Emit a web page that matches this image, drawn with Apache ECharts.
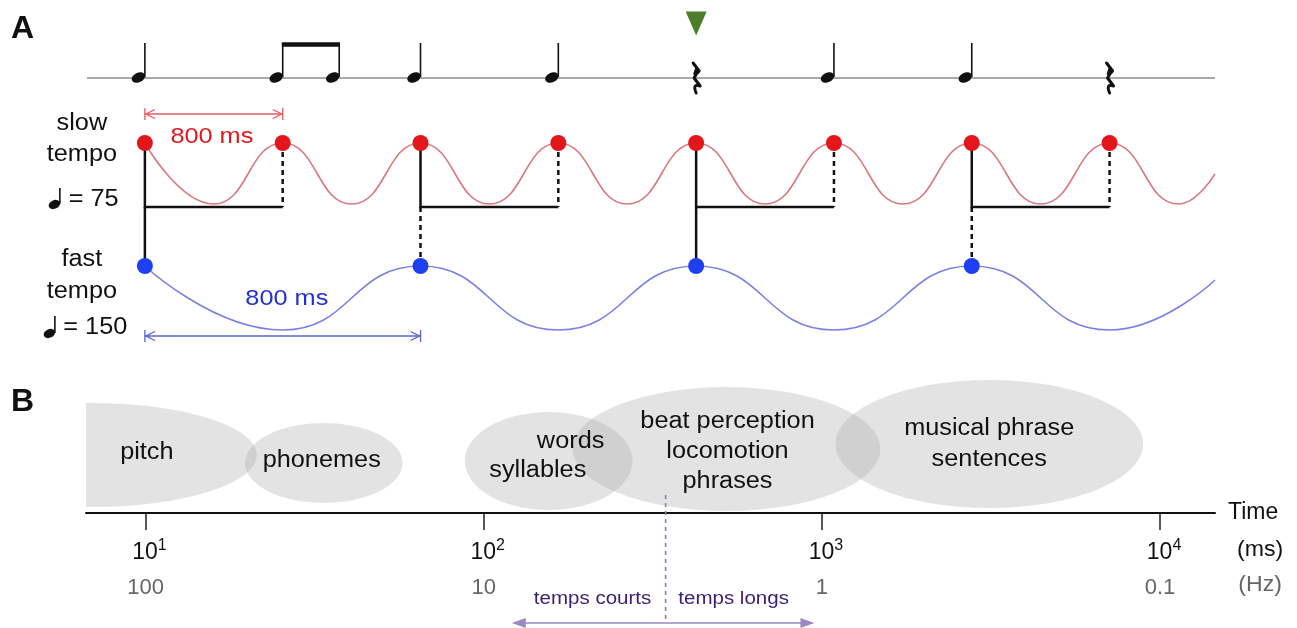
<!DOCTYPE html>
<html><head><meta charset="utf-8">
<script src="https://cdn.jsdelivr.net/npm/echarts@6/dist/echarts.min.js"></script>
<style>html,body{margin:0;padding:0;background:#fff}#c{width:1297px;height:628px}</style>
</head><body><div id="c"></div>
<script>
// ===== Panel A: x in beats of the slow tempo, y in rows (0 = top, 1 row = 10 px) =====
const staffExtent = [-0.42, 7.765];
const staffRow = 7.8;
const stemTopRow = 4.3;
const noteBeats = [0, 1, 1.41, 2, 3, 4, 5, 6, 7];
const noteKinds = ['quarter', 'eighth', 'eighth', 'quarter', 'quarter', 'rest', 'quarter', 'quarter', 'rest'];
const cueBeats = [4];
const cueRow = 2.35;
const slowWaveBeats = [0, 0.5, 1, 1.5, 2, 2.5, 3, 3.5, 4, 4.5, 5, 5.5, 6, 6.5, 7, 7.5, 7.765];
const slowWaveRows = [14.3, 20.4, 14.3, 20.4, 14.3, 20.4, 14.3, 20.4, 14.3, 20.4, 14.3, 20.4, 14.3, 20.4, 14.3, 20.4, 17.4];
const fastWaveBeats = [0, 1, 2, 3, 4, 5, 6, 7, 7.765];
const fastWaveRows = [26.6, 33.0, 26.6, 33.0, 26.6, 33.0, 26.6, 33.0, 28.0];
const slowBeats = [0, 1, 2, 3, 4, 5, 6, 7];
const slowBeatRow = 14.3;
const fastBeats = [0, 2, 4, 6];
const fastBeatRow = 26.6;
const groupStarts = [0, 2, 4, 6];
const groupEnds = [1, 3, 5, 7];
const groupRow = 20.7;
const linkBeats = [0, 2, 4, 6];
const linkDashed = [false, true, false, true];
const spanStarts = [0, 0];
const spanEnds = [1, 2];
const spanRows = [11.4, 33.6];
const spanTexts = ['800 ms', '800 ms'];
const spanTextBeats = [0.486, 1.03];
const spanTextRows = [13.7, 29.9];
const sideTexts = ['slow', 'tempo', '= 75', 'fast', 'tempo', '= 150'];
const sideTextBeats = [-0.457, -0.457, -0.372, -0.457, -0.457, -0.36];
const sideTextRows = [12.4, 15.5, 20.0, 26.0, 29.2, 32.8];
const tempoNoteBeats = [-0.617, -0.653];
const tempoNoteRows = [20.5, 33.4];
const tempoNoteStemTops = [18.8, 31.6];

// ===== Panel B: x = log10(time in ms), y = height above the time axis =====
const timeExtent = [0.824, 4.1625];
const decadeTicks = [1, 2, 3, 4];
const hzLabels = ['100', '10', '1', '0.1'];
const bandCenters = [0.842, 1.527, 2.192, 2.718, 3.495];
const bandHalfWidths = [0.487, 0.233, 0.248, 0.455, 0.455];
const bandLevels = [58, 50, 52, 64, 69];
const bandHalfHeights = [52, 40, 49, 62, 64];
const bandTexts = ['pitch', 'phonemes', 'words', 'syllables', 'beat perception', 'locomotion', 'phrases', 'musical phrase', 'sentences'];
const bandTextX = [1.004, 1.521, 2.257, 2.160, 2.721, 2.721, 2.721, 3.495, 3.495];
const bandTextY = [60, 52, 71, 42, 91, 61, 31, 84, 53];
const splitLog = 2.538;
const splitRange = [18, -110];
const regimeSpan = [2.083, 2.978];
const regimeRow = -110;
const regimeTexts = ['temps courts', 'temps longs'];
const regimeTextX = [2.322, 2.739];
const regimeTextRow = -86;
const unitTexts = ['(ms)', '(Hz)'];
const unitTextX = 4.296;
const unitTextRows = [-37, -72];

const FONT = '"Liberation Sans", Arial, Helvetica, sans-serif';

function txt(p, text, size, color, sx) {
  return { type: 'text', x: p[0], y: p[1], scaleX: sx || 1, z2: 10,
    style: { text: text, fontSize: size, fontFamily: FONT, fill: color, align: 'center', verticalAlign: 'middle' } };
}
function ellipsePath(rx, ry) {
  return 'M ' + (-rx) + ' 0 A ' + rx + ' ' + ry + ' 0 1 0 ' + rx + ' 0 A ' + rx + ' ' + ry + ' 0 1 0 ' + (-rx) + ' 0 Z';
}
function noteGlyph(base, top, rx, ry) {
  return [
    { type: 'path', x: base[0] - rx + 0.5, y: base[1] - 0.5, rotation: 0.45,
      shape: { pathData: ellipsePath(rx, ry) }, style: { fill: '#111' } },
    { type: 'line', shape: { x1: base[0], y1: base[1] - 1, x2: top[0], y2: top[1] },
      style: { stroke: '#111', lineWidth: 1.6 } }
  ];
}

const chart = echarts.init(document.getElementById('c'));

const spanColors = ['#e65b5f', '#5a63c9'];
const spanTextColors = ['#e0191f', '#2430d6'];

const option = {
  animation: false,
  backgroundColor: '#ffffff',
  title: [
    { text: 'A', left: 11, top: 13, padding: 0, textStyle: { fontSize: 32, fontWeight: 'bold', color: '#111', fontFamily: FONT } },
    { text: 'B', left: 11, top: 386, padding: 0, textStyle: { fontSize: 32, fontWeight: 'bold', color: '#111', fontFamily: FONT } }
  ],
  grid: [
    { left: 87, right: 82, top: 0, height: 360, outerBoundsMode: 'none' },
    { left: 86, right: 82, top: 370, height: 143, outerBoundsMode: 'none' }
  ],
  xAxis: [
    { type: 'value', gridIndex: 0, min: staffExtent[0], max: staffExtent[1], show: false },
    { type: 'value', gridIndex: 1, min: timeExtent[0], max: timeExtent[1],
      splitLine: { show: false },
      axisLine: { show: true, onZero: false, lineStyle: { color: '#111', width: 2 } },
      axisTick: { show: true, customValues: decadeTicks, length: 17, lineStyle: { color: '#222', width: 1.5 } },
      axisLabel: {
        customValues: decadeTicks, margin: 25,
        formatter: function (v) {
          const i = decadeTicks.indexOf(Math.round(v));
          return '{p| }{b|10}{s|' + Math.round(v) + '}\n{h|' + (hzLabels[i] || '') + '}';
        },
        rich: {
          p: { width: 8, fontSize: 15, lineHeight: 30 },
          b: { fontSize: 23, lineHeight: 30, color: '#111', fontFamily: FONT },
          s: { fontSize: 16, lineHeight: 14, verticalAlign: 'top', color: '#111', fontFamily: FONT },
          h: { fontSize: 22, lineHeight: 40, color: '#666', fontFamily: FONT }
        }
      },
      name: 'Time', nameLocation: 'end', nameGap: 13,
      nameTextStyle: { fontSize: 23, color: '#111', fontFamily: FONT }
    }
  ],
  yAxis: [
    { type: 'value', gridIndex: 0, min: 0, max: 36, inverse: true, show: false },
    { type: 'value', gridIndex: 1, min: 0, max: 143, show: false }
  ],
  series: [
    // staff line
    { type: 'line', xAxisIndex: 0, yAxisIndex: 0, showSymbol: false, silent: true,
      data: [[staffExtent[0], staffRow], [staffExtent[1], staffRow]],
      lineStyle: { color: '#8d8d8d', width: 1.5 }, z: 1 },
    // notes and rests
    { type: 'custom', xAxisIndex: 0, yAxisIndex: 0, z: 3,
      data: noteBeats.map((b, i) => [b, i]),
      renderItem: function (params, api) {
        const idx = api.value(1);
        const kind = noteKinds[idx];
        const base = api.coord([api.value(0), staffRow]);
        const top = api.coord([api.value(0), stemTopRow]);
        let ch = [];
        if (kind === 'rest') {
          ch.push({ type: 'path', x: base[0], y: base[1],
            shape: { pathData: 'M -3 -15 L 3 -7 Q -1 -3 -2 0 L 4 8 Q -4 5 0 15' },
            style: { fill: null, stroke: '#111', lineWidth: 3, lineJoin: 'round', lineCap: 'round' } });
          ch.push({ type: 'polygon', x: base[0], y: base[1],
            shape: { points: [[-1, -10], [3, -7], [-1, -2], [-3, -4]] }, style: { fill: '#111' } });
        } else {
          ch = ch.concat(noteGlyph(base, top, 7, 4.8));
          if (kind === 'eighth' && noteKinds[idx + 1] === 'eighth') {
            const nxt = api.coord([noteBeats[idx + 1], stemTopRow]);
            ch.push({ type: 'line', shape: { x1: top[0] - 0.8, y1: top[1] + 1.5, x2: nxt[0] + 0.8, y2: nxt[1] + 1.5 },
              style: { stroke: '#111', lineWidth: 4.5 } });
          }
        }
        return { type: 'group', children: ch };
      } },
    // tempo marking notes
    { type: 'custom', xAxisIndex: 0, yAxisIndex: 0, z: 3,
      data: tempoNoteBeats.map((b, i) => [b, tempoNoteRows[i], tempoNoteStemTops[i]]),
      renderItem: function (params, api) {
        const base = api.coord([api.value(0), api.value(1)]);
        const top = api.coord([api.value(0), api.value(2)]);
        return { type: 'group', children: noteGlyph(base, top, 6, 4.3) };
      } },
    // cue triangle
    { type: 'scatter', xAxisIndex: 0, yAxisIndex: 0, data: cueBeats.map(b => [b, cueRow]),
      symbol: 'triangle', symbolRotate: 180, symbolSize: [21, 24], itemStyle: { color: '#4b7d2b', opacity: 1 }, z: 3 },
    // slow wave
    { type: 'line', xAxisIndex: 0, yAxisIndex: 0, showSymbol: false, smooth: 0.5, smoothMonotone: 'x',
      data: slowWaveBeats.map((b, i) => [b, slowWaveRows[i]]),
      lineStyle: { color: '#d7797f', width: 1.6 }, z: 2 },
    // fast wave
    { type: 'line', xAxisIndex: 0, yAxisIndex: 0, showSymbol: false, smooth: 0.5, smoothMonotone: 'x',
      data: fastWaveBeats.map((b, i) => [b, fastWaveRows[i]]),
      lineStyle: { color: '#7c80e2', width: 1.6 }, z: 2 },
    // beat groups (brackets)
    { type: 'custom', xAxisIndex: 0, yAxisIndex: 0, z: 3,
      data: groupStarts.map((s, i) => [s, groupEnds[i]]),
      renderItem: function (params, api) {
        const a = api.coord([api.value(0), slowBeatRow]);
        const b = api.coord([api.value(0), groupRow]);
        const c = api.coord([api.value(1), groupRow]);
        const d = api.coord([api.value(1), slowBeatRow]);
        return { type: 'group', children: [
          { type: 'polyline', shape: { points: [a, b, c] }, style: { fill: null, stroke: '#111', lineWidth: 2.5 } },
          { type: 'line', shape: { x1: d[0], y1: d[1], x2: c[0], y2: c[1] }, style: { stroke: '#111', lineWidth: 2.5, lineDash: [5, 4] } }
        ] };
      } },
    // links slow -> fast
    { type: 'custom', xAxisIndex: 0, yAxisIndex: 0, z: 3,
      data: linkBeats.map((b, i) => [b, i]),
      renderItem: function (params, api) {
        const a = api.coord([api.value(0), groupRow]);
        const b = api.coord([api.value(0), fastBeatRow]);
        const dashed = linkDashed[api.value(1)];
        return { type: 'line', shape: { x1: a[0], y1: a[1], x2: b[0], y2: b[1] },
          style: { stroke: '#111', lineWidth: 2.5, lineDash: dashed ? [5, 4] : null } };
      } },
    // beat dots
    { type: 'scatter', xAxisIndex: 0, yAxisIndex: 0, data: slowBeats.map(b => [b, slowBeatRow]),
      symbolSize: 16, itemStyle: { color: '#e3161b', opacity: 1 }, z: 5 },
    { type: 'scatter', xAxisIndex: 0, yAxisIndex: 0, data: fastBeats.map(b => [b, fastBeatRow]),
      symbolSize: 16, itemStyle: { color: '#1e40f0', opacity: 1 }, z: 5 },
    // duration spans
    { type: 'custom', xAxisIndex: 0, yAxisIndex: 0, z: 4,
      data: spanStarts.map((s, i) => [s, spanEnds[i], spanRows[i], i]),
      renderItem: function (params, api) {
        const i = api.value(3);
        const col = spanColors[i];
        const p0 = api.coord([api.value(0), api.value(2)]);
        const p1 = api.coord([api.value(1), api.value(2)]);
        const st = { stroke: col, lineWidth: 1.3, fill: null };
        return { type: 'group', children: [
          { type: 'line', shape: { x1: p0[0], y1: p0[1], x2: p1[0], y2: p1[1] }, style: st },
          { type: 'line', shape: { x1: p0[0], y1: p0[1] - 6, x2: p0[0], y2: p0[1] + 6 }, style: st },
          { type: 'line', shape: { x1: p1[0], y1: p1[1] - 6, x2: p1[0], y2: p1[1] + 6 }, style: st },
          { type: 'polyline', shape: { points: [[p0[0] + 10, p0[1] - 4.5], [p0[0] + 1, p0[1]], [p0[0] + 10, p0[1] + 4.5]] }, style: st },
          { type: 'polyline', shape: { points: [[p1[0] - 10, p1[1] - 4.5], [p1[0] - 1, p1[1]], [p1[0] - 10, p1[1] + 4.5]] }, style: st }
        ] };
      } },
    // span labels
    { type: 'custom', xAxisIndex: 0, yAxisIndex: 0, z: 6,
      data: spanTexts.map((t, i) => [spanTextBeats[i], spanTextRows[i], i]),
      renderItem: function (params, api) {
        const i = api.value(2);
        return txt(api.coord([api.value(0), api.value(1)]), spanTexts[i], 22, spanTextColors[i], 1.15);
      } },
    // side labels
    { type: 'custom', xAxisIndex: 0, yAxisIndex: 0, z: 6,
      data: sideTexts.map((t, i) => [sideTextBeats[i], sideTextRows[i], i]),
      renderItem: function (params, api) {
        const i = api.value(2);
        return txt(api.coord([api.value(0), api.value(1)]), sideTexts[i], 23, '#111', 1.1);
      } },
    // ===== Panel B =====
    // time-scale bands
    { type: 'custom', xAxisIndex: 1, yAxisIndex: 1, clip: true, z: 2,
      data: bandCenters.map((c, i) => [c, bandLevels[i], bandHalfWidths[i], bandHalfHeights[i]]),
      renderItem: function (params, api) {
        const c = api.coord([api.value(0), api.value(1)]);
        const s = api.size([api.value(2), api.value(3)]);
        return { type: 'path', x: c[0], y: c[1], shape: { pathData: ellipsePath(s[0], s[1]) },
          style: { fill: 'rgba(167,167,167,0.32)' } };
      } },
    // band labels
    { type: 'custom', xAxisIndex: 1, yAxisIndex: 1, z: 6,
      data: bandTexts.map((t, i) => [bandTextX[i], bandTextY[i], i]),
      renderItem: function (params, api) {
        const i = api.value(2);
        return txt(api.coord([api.value(0), api.value(1)]), bandTexts[i], 23, '#111', 1.1);
      } },
    // split line between short and long times
    { type: 'custom', xAxisIndex: 1, yAxisIndex: 1, z: 4,
      data: [[splitLog, splitRange[0], splitRange[1]]],
      renderItem: function (params, api) {
        const a = api.coord([api.value(0), api.value(1)]);
        const b = api.coord([api.value(0), api.value(2)]);
        return { type: 'line', shape: { x1: a[0], y1: a[1], x2: b[0], y2: b[1] },
          style: { stroke: '#8a78b8', lineWidth: 1.6, lineDash: [4, 4] } };
      } },
    // regime arrow
    { type: 'custom', xAxisIndex: 1, yAxisIndex: 1, z: 4,
      data: [[regimeSpan[0], regimeSpan[1], regimeRow]],
      renderItem: function (params, api) {
        const a = api.coord([api.value(0), api.value(2)]);
        const b = api.coord([api.value(1), api.value(2)]);
        const col = '#9a88c4';
        return { type: 'group', children: [
          { type: 'line', shape: { x1: a[0] + 8, y1: a[1], x2: b[0] - 8, y2: b[1] }, style: { stroke: col, lineWidth: 1.6 } },
          { type: 'polygon', shape: { points: [[a[0], a[1]], [a[0] + 14, a[1] - 5], [a[0] + 14, a[1] + 5]] }, style: { fill: col } },
          { type: 'polygon', shape: { points: [[b[0], b[1]], [b[0] - 14, b[1] - 5], [b[0] - 14, b[1] + 5]] }, style: { fill: col } }
        ] };
      } },
    // regime labels
    { type: 'custom', xAxisIndex: 1, yAxisIndex: 1, z: 6,
      data: regimeTexts.map((t, i) => [regimeTextX[i], regimeTextRow, i]),
      renderItem: function (params, api) {
        const i = api.value(2);
        return txt(api.coord([api.value(0), api.value(1)]), regimeTexts[i], 18, '#3b1f6e', 1.14);
      } },
    // unit labels
    { type: 'custom', xAxisIndex: 1, yAxisIndex: 1, z: 6,
      data: unitTexts.map((t, i) => [unitTextX, unitTextRows[i], i]),
      renderItem: function (params, api) {
        const i = api.value(2);
        return txt(api.coord([api.value(0), api.value(1)]), unitTexts[i], 22, i === 0 ? '#111' : '#666', 1.05);
      } }
  ]
};
chart.setOption(option);
</script>
</body></html>
